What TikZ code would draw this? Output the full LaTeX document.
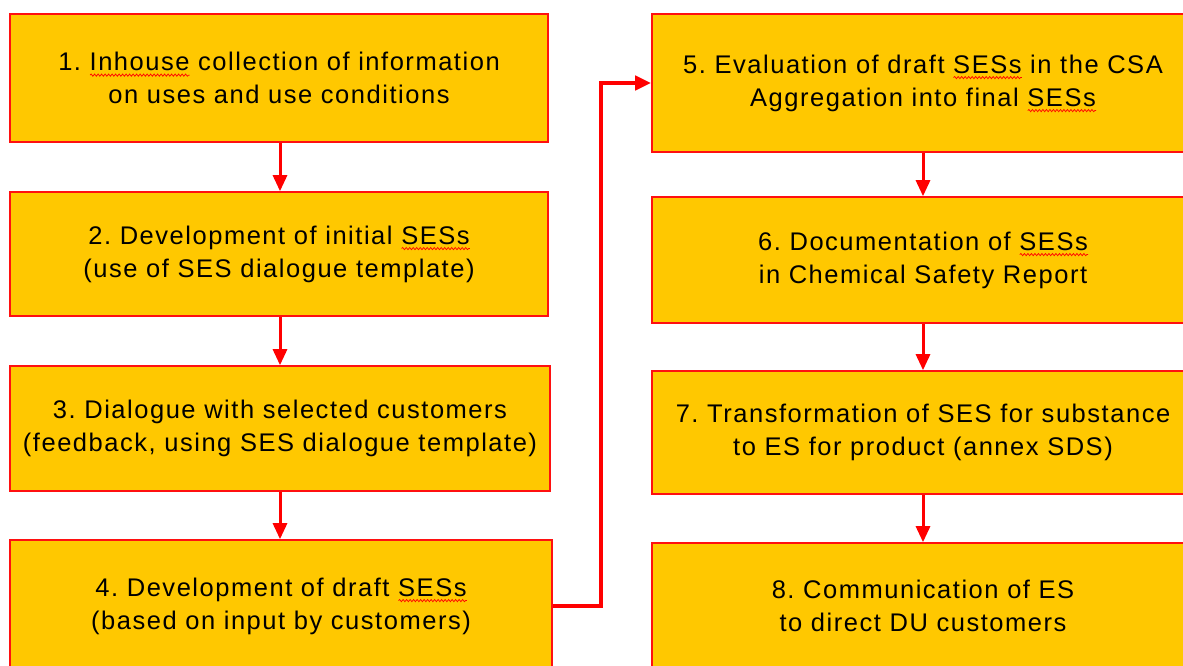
\documentclass[tikz,border=0pt]{standalone}
\usepackage{fontspec}
\setmainfont{Liberation Sans}[LetterSpace=6]
\usetikzlibrary{arrows.meta,decorations.pathmorphing}
\definecolor{boxfill}{HTML}{FFC800}
\definecolor{boxline}{HTML}{FF1010}
\newsavebox\squigbox
\newcommand\squig[1]{\sbox\squigbox{#1}\rlap{\smash{\tikz[baseline=0pt]{\draw[red,line width=0.7pt,decorate,decoration={snake,amplitude=1.1pt,segment length=3.5pt}] (0pt,-4.5pt) -- (\wd\squigbox,-4.5pt);}}}\usebox\squigbox}
\tikzset{
  stepbox/.style={draw=boxline, fill=boxfill, line width=1.6pt, align=center,
    inner sep=0pt, font=\fontsize{25.5}{33}\selectfont},
  flow/.style={draw=red, line width=3pt, -{Triangle[length=16pt,width=14pt]}},
}
\frenchspacing
\begin{document}
\begin{tikzpicture}[x=1pt,y=-1pt]
\useasboundingbox (0,0) rectangle (1183,666);
\clip (0,0) rectangle (1183,666);
% left column
\node[stepbox, minimum width=538pt, minimum height=128pt] (b1) at (279,78)
  {1. \squig{Inhouse} collection of information\\on uses and use conditions};
\node[stepbox, minimum width=538pt, minimum height=124pt] (b2) at (279,254)
  {2. Development of initial \squig{SESs}\\(use of SES dialogue template)};
\node[stepbox, minimum width=540pt, minimum height=125pt] (b3) at (280,428.5)
  {3. Dialogue with selected customers\\(feedback, using SES dialogue template)};
\node[stepbox, minimum width=542pt, minimum height=132pt] (b4) at (281,606)
  {4. Development of draft \squig{SESs}\\(based on input by customers)};
% right column
\node[stepbox, minimum width=542pt, minimum height=138pt] (b5) at (923,83)
  {5. Evaluation of draft \squig{SESs} in the CSA\\Aggregation into final \squig{SESs}};
\node[stepbox, minimum width=542pt, minimum height=126pt] (b6) at (923,260)
  {6. Documentation of \squig{SESs}\\in Chemical Safety Report};
\node[stepbox, minimum width=542pt, minimum height=123pt] (b7) at (923,432.5)
  {7. Transformation of SES for substance\\to ES for product (annex SDS)};
\node[stepbox, minimum width=542pt, minimum height=126pt] (b8) at (923,606)
  {8. Communication of ES\\to direct DU customers};
% connectors
\draw[flow] (b1.south -| 280,0) -- (b2.north -| 280,0);
\draw[flow] (b2.south -| 280,0) -- (b3.north -| 280,0);
\draw[flow] (b3.south -| 280,0) -- (b4.north -| 280,0);
\draw[flow] (b5) -- (b6);
\draw[flow] (b6) -- (b7);
\draw[flow] (b7) -- (b8);
\draw[flow, line width=4pt] (b4.east) -- (601,606) |- (b5.west);
\end{tikzpicture}
\end{document}
